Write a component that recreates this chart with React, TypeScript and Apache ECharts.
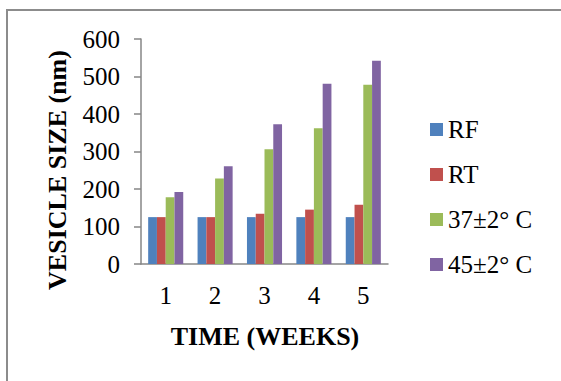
import React, { useEffect, useRef } from "react";
import * as echarts from "echarts";

const weeks = ["1", "2", "3", "4", "5"];
const seriesNames = ["RF", "RT", "37±2° C", "45±2° C"];
const rfValues = [125, 125, 125, 125, 125];
const rtValues = [125, 125, 134, 145, 158];
const t37Values = [178, 228, 306, 362, 478];
const t45Values = [192, 261, 373, 481, 542];
const colors = ["#4F81BD", "#C0504D", "#9BBB59", "#8064A2"];
const yTitle = "VESICLE SIZE (nm)";
const xTitle = "TIME (WEEKS)";

const FONT = "Liberation Serif";

export default function App() {
  const ref = useRef<HTMLDivElement>(null);
  useEffect(() => {
    if (!ref.current) return;
    const chart = echarts.init(ref.current, undefined, { renderer: "svg" });
    const data = [rfValues, rtValues, t37Values, t45Values];
    chart.setOption({
      animation: false,
      backgroundColor: "#ffffff",
      textStyle: { fontFamily: FONT },
      grid: { left: 141, right: 173, top: 39, bottom: 117, containLabel: false },
      legend: {
        orient: "vertical",
        left: 430,
        top: 117,
        padding: 0,
        itemWidth: 13,
        itemHeight: 13,
        itemGap: 20,
        icon: "rect",
        data: seriesNames,
        textStyle: { fontFamily: FONT, fontSize: 25, lineHeight: 25, color: "#000" },
      },
      xAxis: {
        type: "category",
        data: weeks,
        axisLine: { lineStyle: { color: "#868686", width: 1.5 } },
        axisTick: { show: false },
        axisLabel: { fontFamily: FONT, fontSize: 25, color: "#000", margin: 19 },
      },
      yAxis: {
        type: "value",
        min: 0,
        max: 600,
        interval: 100,
        axisLine: { show: true, lineStyle: { color: "#868686", width: 1.5 } },
        axisTick: { show: true, length: 7, lineStyle: { color: "#868686", width: 1.5 } },
        splitLine: { show: false },
        axisLabel: { fontFamily: FONT, fontSize: 25, color: "#000", margin: 21 },
      },
      series: seriesNames.map((name, i) => ({
        name,
        type: "bar",
        data: data[i],
        barGap: "0%",
        barCategoryGap: "29%",
        itemStyle: { color: colors[i] },
      })),
      graphic: [
        {
          type: "rect",
          shape: { x: 7, y: 10, width: 620, height: 420 },
          style: { fill: "none", stroke: "#8c8c8c", lineWidth: 2 },
          silent: true,
        },
        {
          type: "text",
          x: 57,
          y: 170,
          rotation: Math.PI / 2,
          style: {
            text: yTitle,
            fontFamily: FONT,
            fontSize: 26,
            fontWeight: "bold",
            fill: "#000",
            align: "center",
            verticalAlign: "middle",
          },
        },
        {
          type: "text",
          x: 265,
          y: 336,
          style: {
            text: xTitle,
            fontFamily: FONT,
            fontSize: 26,
            fontWeight: "bold",
            fill: "#000",
            align: "center",
            verticalAlign: "middle",
          },
        },
      ],
    });
    return () => chart.dispose();
  }, []);
  return (
    <div
      ref={ref}
      style={{ position: "absolute", left: 0, top: 0, width: 561, height: 381 }}
    />
  );
}
